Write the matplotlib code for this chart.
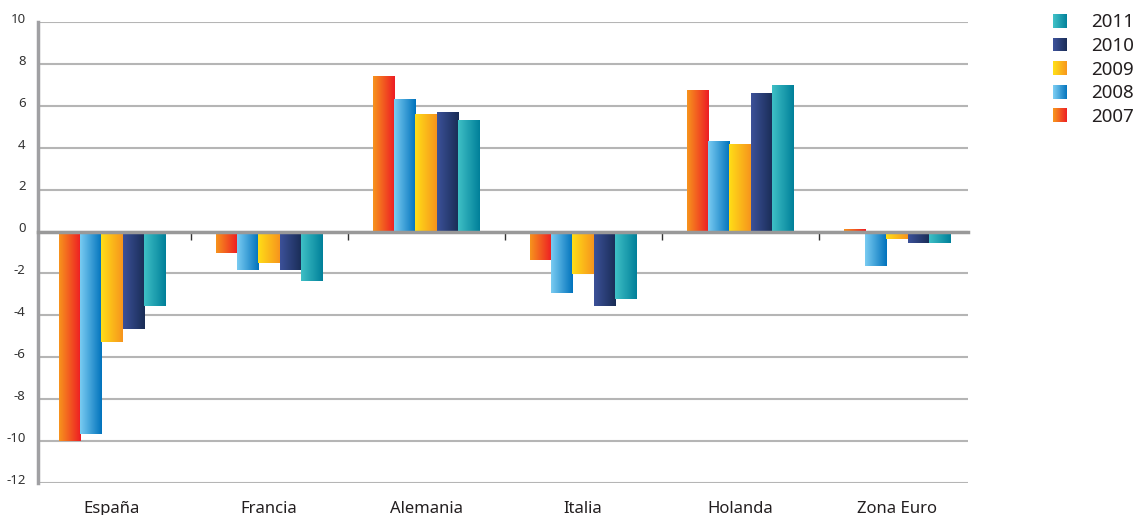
import numpy as np
import matplotlib.pyplot as plt
from matplotlib.colors import LinearSegmentedColormap
from matplotlib.legend_handler import HandlerBase
from matplotlib.patches import Rectangle
from matplotlib.transforms import ScaledTranslation

plt.rcParams['font.family'] = ['Noto Sans', 'DejaVu Sans']

# data
paises = ['España', 'Francia', 'Alemania', 'Italia', 'Holanda', 'Zona Euro']
years = ['2007', '2008', '2009', '2010', '2011']
v2007 = [-10.0, -1.04, 7.43, -1.37, 6.75, 0.10]
v2008 = [-9.65, -1.85, 6.32, -2.95, 4.31, -1.66]
v2009 = [-5.25, -1.52, 5.60, -2.04, 4.16, -0.37]
v2010 = [-4.63, -1.85, 5.69, -3.57, 6.60, -0.56]
v2011 = [-3.57, -2.34, 5.31, -3.24, 6.99, -0.53]
series = [v2007, v2008, v2009, v2010, v2011]
yticks = list(range(-12, 11, 2))

# left -> right colours of each gradient bar
grads = [('#f7941d', '#ed1c24'),
         ('#7accf2', '#0072bc'),
         ('#ffde17', '#f7941d'),
         ('#3c5199', '#192c55'),
         ('#3fc0c6', '#007f99')]
cmaps = [LinearSegmentedColormap.from_list('g%d' % i, g) for i, g in enumerate(grads)]


class GradKey:
    def __init__(self, cmap):
        self.cmap = cmap


class GradHandler(HandlerBase):
    def create_artists(self, legend, orig_handle, xdescent, ydescent,
                       width, height, fontsize, trans):
        n = 16
        arts = []
        for i in range(n):
            r = Rectangle((-xdescent + i * width / n, -ydescent), width / n * 1.05, height,
                          facecolor=orig_handle.cmap(i / (n - 1)), edgecolor='none',
                          transform=trans)
            arts.append(r)
        return arts


fig = plt.figure(figsize=(11.36, 5.15), dpi=100)
ax = fig.add_axes([38 / 1136, 1 - 483 / 515, 930 / 1136, 461 / 515])

x = np.arange(len(paises))
w = 0.134
grad = np.linspace(0, 1, 256).reshape(1, -1)
for i, vals in enumerate(series):
    bars = ax.bar(x + (i - 2) * w, vals, w, facecolor='none', edgecolor='none', zorder=2)
    for b in bars:
        x0, x1 = b.get_x(), b.get_x() + b.get_width()
        y0, y1 = sorted([b.get_y(), b.get_y() + b.get_height()])
        im = ax.imshow(grad, cmap=cmaps[i], extent=[x0, x1, y0, y1],
                       aspect='auto', zorder=2, interpolation='bilinear')
        im.set_clip_path(b)

ax.set_xlim(-0.5 + 4.5 / 157, 5.5 - 7.5 / 157)
ax.set_ylim(-12, 10)
ax.set_yticks(yticks)
ax.set_yticklabels([str(t) for t in yticks])
ax.tick_params(axis='y', length=0, pad=9, labelsize=9.5, labelcolor='#333333')
for lab in ax.get_yticklabels():
    lab.set_transform(lab.get_transform() + ScaledTranslation(0, 3 / 72, fig.dpi_scale_trans))

ax.grid(axis='y', color='#b5b5b5', lw=1.5)
ax.set_axisbelow(True)

for s in ['top', 'right']:
    ax.spines[s].set_visible(False)
ax.spines['left'].set_color('#a0a0a3')
ax.spines['left'].set_linewidth(2.5)
ax.spines['bottom'].set_position(('data', 0))
ax.spines['bottom'].set_color('#999999')
ax.spines['bottom'].set_linewidth(2.5)
ax.spines['bottom'].set_zorder(3)

ax.set_xticks([])
ax.set_xticks(x[:-1] + 0.5, minor=True)
ax.tick_params(axis='x', which='minor', length=6, width=1, color='#333333', direction='out')

sec = ax.secondary_xaxis('bottom')
sec.set_xticks(x)
sec.set_xticklabels(paises)
sec.tick_params(length=0, pad=13, labelsize=12, labelcolor='#231f20')
sec.spines['bottom'].set_visible(False)

handles = [GradKey(cmaps[i]) for i in range(4, -1, -1)]
labels = [years[i] for i in range(4, -1, -1)]
fig.legend(handles, labels, handler_map={GradKey: GradHandler()},
           loc='upper left', bbox_to_anchor=(1044 / 1136, 1 - 4 / 515),
           frameon=False, fontsize=13.5, labelcolor='#231f20',
           handlelength=0.75, handleheight=0.75, handletextpad=1.25,
           labelspacing=0.3, borderpad=0)

fig.savefig('out.png', dpi=100)
